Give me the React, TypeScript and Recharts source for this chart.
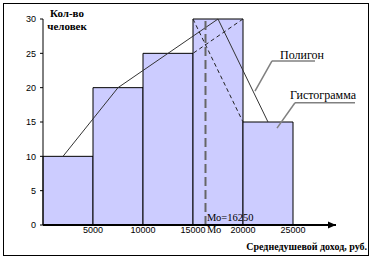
import {
  ComposedChart,
  Line,
  XAxis,
  YAxis,
  ReferenceArea,
  ReferenceLine,
  ReferenceDot,
} from "recharts";

// intervals of income (rub.) and number of people
const binFrom = [0, 5000, 10000, 15000, 20000];
const binTo = [5000, 10000, 15000, 20000, 25000];
const people = [10, 20, 25, 30, 15];

// polygon vertices as drawn
const polyX = [2000, 7500, 12500, 17500, 22500];
const polyY = [10, 20, 25, 30, 15];

const xTicks = [5000, 10000, 15000, 20000, 25000];
const yTicks = [0, 5, 10, 15, 20, 25, 30];

const mode = 16250;

const polygon = polyX.map((x, i) => ({ x, y: polyY[i] }));

const serif = "'Liberation Serif', 'Times New Roman', serif";
const sans = "'Liberation Sans', Arial, sans-serif";

const note =
  (text: string, size: number, anchor: string, bold = false) =>
  (p: any) => (
    <text
      x={p.cx}
      y={p.cy}
      fontFamily={serif}
      fontSize={size}
      fontWeight={bold ? "bold" : "normal"}
      textAnchor={anchor}
      fill="#000"
    >
      {text}
    </text>
  );

const arrow = (p: any) => (
  <polygon
    points={`${p.cx - 8},${p.cy - 3.5} ${p.cx},${p.cy} ${p.cx - 8},${p.cy + 3.5}`}
    fill="#000"
  />
);

const lead = { stroke: "#808080", strokeWidth: 1.5, ifOverflow: "visible" as const };

export default function App() {
  return (
    <div style={{ position: "absolute", left: 0, top: 0, width: 372, height: 259, background: "#fff" }}>
      <div
        style={{
          position: "absolute",
          left: 3,
          top: 3,
          width: 366,
          height: 253,
          boxSizing: "border-box",
          border: "1px solid #000",
        }}
      />
      <div style={{ position: "absolute", left: 0, top: 0 }}>
        <ComposedChart
          width={372}
          height={259}
          data={polygon}
          margin={{ top: 19, right: 36, left: 0, bottom: 14 }}
        >
          <XAxis
            dataKey="x"
            type="number"
            domain={[0, 29300]}
            ticks={xTicks}
            allowDataOverflow
            tickLine={false}
            tickSize={0}
            tickMargin={2}
            height={20}
            axisLine={{ stroke: "#000", strokeWidth: 2 }}
            tick={{ fill: "#000", fontSize: 9, fontFamily: sans }}
          />
          <YAxis
            type="number"
            domain={[0, 30]}
            ticks={yTicks}
            width={43}
            tickSize={3}
            tickMargin={4}
            axisLine={{ stroke: "#000" }}
            tickLine={{ stroke: "#000" }}
            tick={{ fill: "#000", fontSize: 9, fontFamily: sans }}
          />
          {people.map((v, i) => (
            <ReferenceArea
              key={i}
              x1={binFrom[i]}
              x2={binTo[i]}
              y1={0}
              y2={v}
              fill="#ccccff"
              fillOpacity={1}
              stroke="#000"
              strokeWidth={1}
            />
          ))}
          <Line
            dataKey="y"
            type="linear"
            stroke="#333"
            strokeWidth={1}
            dot={false}
            activeDot={false}
            isAnimationActive={false}
          />
          <ReferenceLine
            segment={[{ x: binFrom[3], y: people[3] }, { x: binTo[3], y: people[4] }]}
            stroke="#222"
            strokeDasharray="4 3"
          />
          <ReferenceLine
            segment={[{ x: binTo[3], y: people[3] }, { x: binFrom[3], y: people[2] }]}
            stroke="#222"
            strokeDasharray="4 3"
          />
          <ReferenceLine
            segment={[{ x: mode, y: 0 }, { x: mode, y: 30 }]}
            stroke="#666"
            strokeWidth={2}
            strokeDasharray="9 4"
          />
          {/* leader lines of the callouts */}
          <ReferenceLine segment={[{ x: 22900, y: 23.9 }, { x: 27200, y: 23.9 }]} {...lead} />
          <ReferenceLine segment={[{ x: 22900, y: 23.9 }, { x: 21200, y: 19.5 }]} {...lead} />
          <ReferenceLine segment={[{ x: 25200, y: 17.8 }, { x: 31200, y: 17.8 }]} {...lead} />
          <ReferenceLine segment={[{ x: 25200, y: 17.8 }, { x: 23400, y: 14.1 }]} {...lead} />
          <ReferenceDot x={29300} y={0} ifOverflow="visible" shape={arrow} />
          <ReferenceDot x={2400} y={30.3} ifOverflow="visible" shape={note("Кол-во", 11, "middle", true)} />
          <ReferenceDot x={2400} y={28.4} ifOverflow="visible" shape={note("человек", 11, "middle", true)} />
          <ReferenceDot
            x={32400}
            y={-3.64}
            ifOverflow="visible"
            shape={note("Среднедушевой доход, руб.", 10, "end", true)}
          />
          <ReferenceDot x={16400} y={0.63} ifOverflow="visible" shape={note("Мо=16250", 10.5, "start")} />
          <ReferenceDot x={16400} y={-1.23} ifOverflow="visible" shape={note("Мо", 10.5, "start")} />
          <ReferenceDot x={23700} y={24.17} ifOverflow="visible" shape={note("Полигон", 12, "start")} />
          <ReferenceDot x={24700} y={18.35} ifOverflow="visible" shape={note("Гистограмма", 12, "start")} />
        </ComposedChart>
      </div>
    </div>
  );
}
